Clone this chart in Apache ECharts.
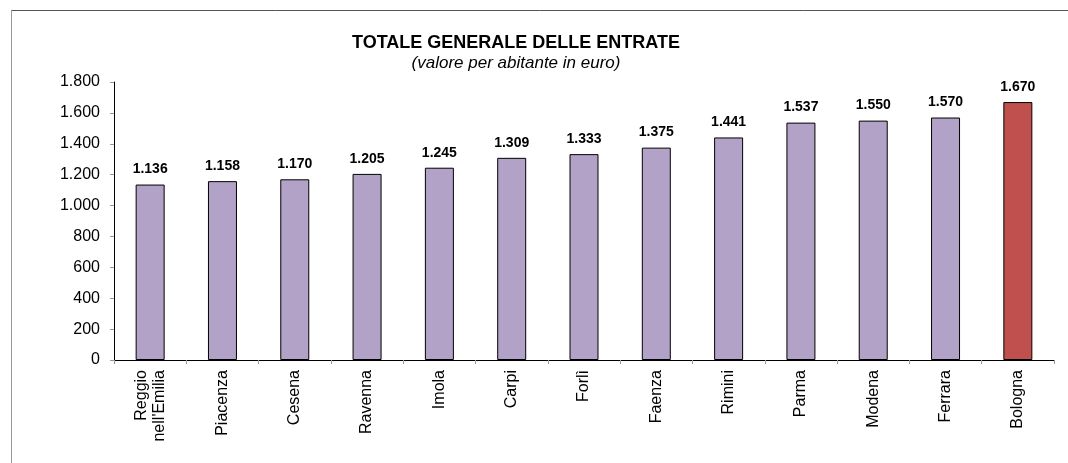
<!DOCTYPE html>
<html>
<head>
<meta charset="utf-8">
<script src="https://cdn.jsdelivr.net/npm/echarts@6/dist/echarts.min.js"></script>
<style>
  html, body { margin: 0; padding: 0; background: #fff; }
  #chart { width: 1068px; height: 463px; }
</style>
</head>
<body>
<div id="chart"></div>
<script>
// comuni e valori (euro per abitante)
var cities = ["Reggio\nnell'Emilia", 'Piacenza', 'Cesena', 'Ravenna', 'Imola', 'Carpi', 'Forlì',
  'Faenza', 'Rimini', 'Parma', 'Modena', 'Ferrara', 'Bologna'];
var values = [1136, 1158, 1170, 1205, 1245, 1309, 1333, 1375, 1441, 1537, 1550, 1570, 1670];
var highlight = 'Bologna';

var yMin = 0, yMax = 1800, yStep = 200;

var FONT = '"Liberation Sans", Arial, sans-serif';

// formato italiano: 1.136
function fmt(v) {
  return String(v).replace(/\B(?=(\d{3})+(?!\d))/g, '.');
}

var chart = echarts.init(document.getElementById('chart'), null, { renderer: 'canvas' });

var option = {
  backgroundColor: '#fff',
  animation: false,
  title: {
    text: 'TOTALE GENERALE DELLE ENTRATE',
    subtext: '(valore per abitante in euro)',
    left: 511,
    textAlign: 'center',
    top: 29,
    itemGap: 3,
    textStyle: { fontFamily: FONT, fontSize: 18, fontWeight: 'bold', color: '#000' },
    subtextStyle: { fontFamily: FONT, fontSize: 17, fontStyle: 'italic', color: '#000' }
  },
  grid: { left: 114, right: 14, top: 82, bottom: 103 },
  xAxis: {
    type: 'category',
    data: cities,
    axisLine: { lineStyle: { color: '#000', width: 1 } },
    axisTick: { show: true, length: 4, alignWithLabel: false, lineStyle: { color: '#999' } },
    axisLabel: {
      rotate: 90,
      margin: 10,
      interval: 0,
      fontFamily: FONT,
      fontSize: 16,
      color: '#000',
      lineHeight: 18
    }
  },
  yAxis: {
    type: 'value',
    min: yMin,
    max: yMax,
    interval: yStep,
    splitLine: { show: false },
    axisLine: { show: true, lineStyle: { color: '#000', width: 1 } },
    axisTick: { show: true, length: 4, lineStyle: { color: '#999' } },
    axisLabel: {
      formatter: fmt,
      margin: 14,
      fontFamily: FONT,
      fontSize: 16,
      color: '#000'
    }
  },
  series: [{
    type: 'bar',
    barWidth: 29,
    data: values.map(function (v, i) {
      return {
        value: v,
        itemStyle: { color: cities[i] === highlight ? '#C0504D' : '#B3A2C7' }
      };
    }),
    itemStyle: { borderColor: '#000', borderWidth: 1 },
    label: {
      show: true,
      position: 'top',
      distance: 8,
      formatter: function (p) { return fmt(p.value); },
      fontFamily: FONT,
      fontSize: 14,
      fontWeight: 'bold',
      color: '#000'
    }
  }],
  graphic: [
    { type: 'line', shape: { x1: 11, y1: 10.5, x2: 1068, y2: 10.5 }, style: { stroke: '#555', lineWidth: 1 } },
    { type: 'line', shape: { x1: 11.5, y1: 10, x2: 11.5, y2: 463 }, style: { stroke: '#999', lineWidth: 1 } }
  ]
};

chart.setOption(option);
</script>
</body>
</html>
